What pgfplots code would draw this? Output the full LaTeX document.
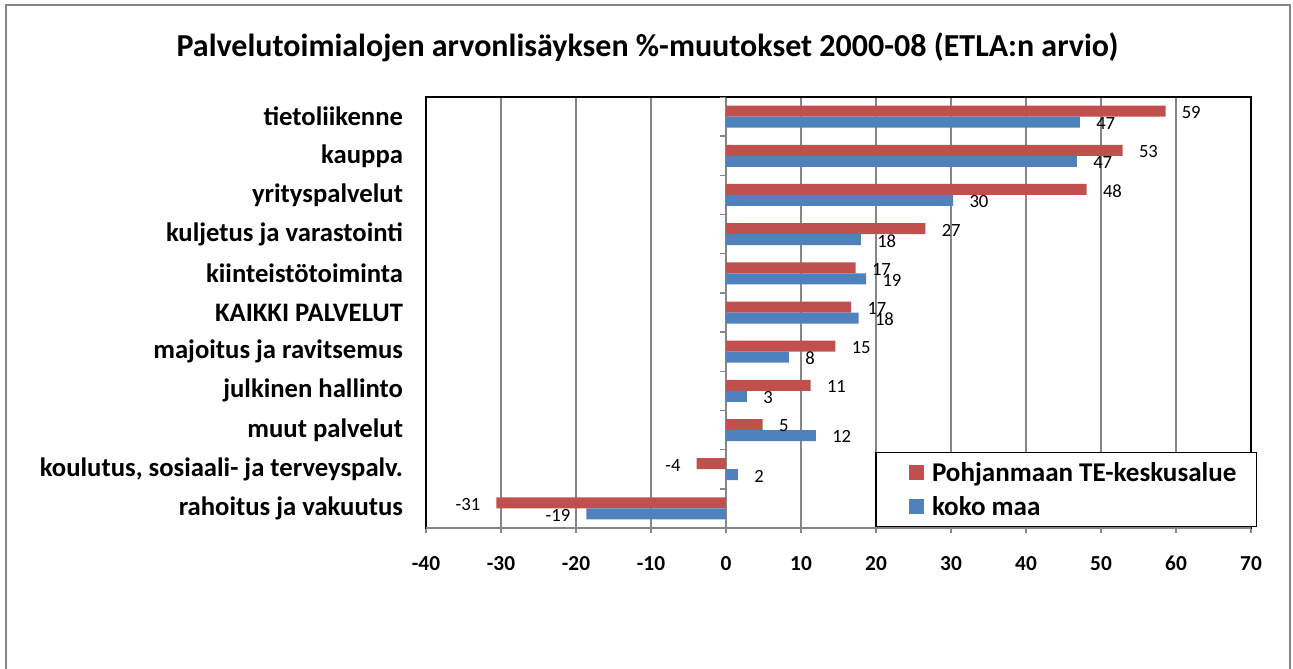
\documentclass[border=0pt]{standalone}
\usepackage{pgfplots}
\pgfplotsset{compat=1.18}
\usepackage{fontspec}
\setmainfont{Carlito}
\definecolor{exred}{RGB}{192,80,77}
\definecolor{exblue}{RGB}{79,129,189}
\definecolor{gridgray}{RGB}{134,134,134}
\pgfkeys{/pgf/number format/assume math mode=true}

\begin{document}
\begin{tikzpicture}
\path[use as bounding box] (-319.5pt,-105pt) rectangle (650.25pt,396pt);
% outer frame
\draw[gridgray, line width=1.5pt] (-315pt,-110pt) -- (-315pt,392.25pt) -- (648pt,392.25pt) -- (648pt,-110pt);
\node[font=\bfseries\fontsize{24}{28}\selectfont] at (166.1pt,360.75pt)
  {Palvelutoimialojen arvonlisäyksen \%-muutokset 2000-08 (ETLA:n arvio)};

\begin{axis}[
  at={(0pt,0pt)}, anchor=south west,
  scale only axis, width=618.75pt, height=323.25pt,
  xbar=0pt, bar width=8.25pt,
  xmin=-40, xmax=70, xtick={-40,-30,...,70},
  ymin=-0.5, ymax=10.5, y dir=reverse,
  ytick={0,...,10},
  yticklabels={tietoliikenne, kauppa, yrityspalvelut, kuljetus ja varastointi,
    kiinteistötoiminta, KAIKKI PALVELUT, majoitus ja ravitsemus, julkinen hallinto,
    muut palvelut, {koulutus, sosiaali- ja terveyspalv.}, rahoitus ja vakuutus},
  ytick style={draw=none},
  yticklabel style={font=\bfseries\fontsize{20}{24}\selectfont, xshift=-10pt},
  xtick pos=bottom, tick align=outside,
  major tick length=3.75pt,
  xtick style={gridgray, line width=1.1pt},
  xticklabel style={font=\bfseries\fontsize{16}{19}\selectfont, yshift=-14pt},
  xmajorgrids, major grid style={gridgray, line width=1.1pt},
  axis line style={black, line width=1.5pt},
  nodes near coords={\pgfmathprintnumber[fixed,precision=0]{\pgfplotspointmeta}},
  point meta=x,
  every node near coord/.append style={font=\fontsize{14}{17}\selectfont, black, inner xsep=12pt, yshift=-1pt},
  legend style={at={(1.0073,0.176)}, anchor=north east, draw=black, line width=0.9pt,
    fill=white, font=\bfseries\fontsize{20.3}{24}\selectfont,
    inner xsep=13pt, inner ysep=5pt, row sep=6pt},
  legend cell align=left,
  legend image code/.code={\path (-12pt,0pt) (15pt,0pt); \fill[#1] (0pt,-5.6pt) rectangle (11.25pt,5.6pt);},
]
\addplot[draw=none, fill=exred, bar shift=4.125pt] coordinates {
  (58.6,0) (52.9,1) (48.1,2) (26.6,3) (17.3,4) (16.7,5)
  (14.6,6) (11.3,7) (4.9,8) (-3.9,9) (-30.6,10)
};
\addlegendentry{Pohjanmaan TE-keskusalue}
\addplot[draw=none, fill=exblue, bar shift=-4.125pt] coordinates {
  (47.2,0) (46.8,1) (30.3,2) (18.0,3) (18.7,4) (17.7,5)
  (8.4,6) (2.8,7) (12.0,8) (1.6,9) (-18.6,10)
};
\addlegendentry{koko maa}
% bottom axis line in gray and category ticks on the zero line
\draw[gridgray, line width=1.5pt] (rel axis cs:0,0) -- (rel axis cs:1,0);
\pgfplotsinvokeforeach{-0.5,0.5,1.5,2.5,3.5,4.5,5.5,6.5,7.5,8.5,9.5}{
  \draw[gridgray, line width=1.1pt] (axis cs:0,#1) -- ++(-4.5pt,0pt);
}
\end{axis}
\end{tikzpicture}
\end{document}
